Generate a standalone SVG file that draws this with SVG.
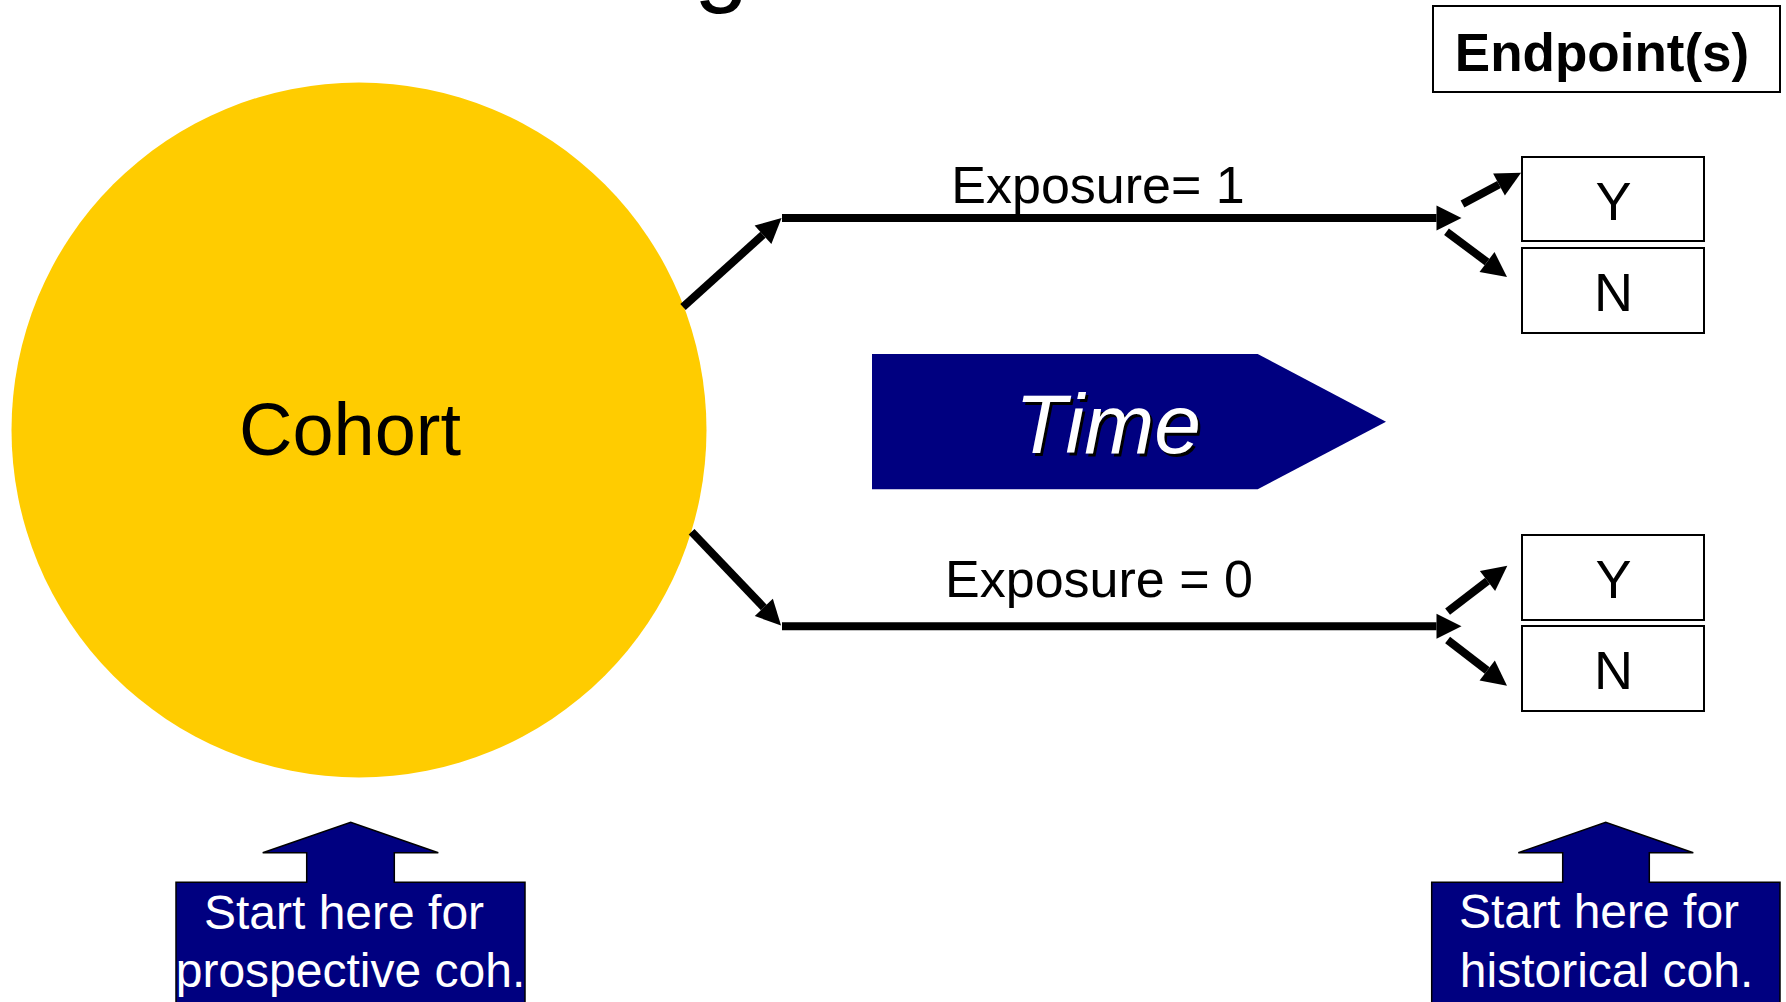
<svg xmlns="http://www.w3.org/2000/svg" width="1786" height="1002" viewBox="0 0 1786 1002">
  <style>
    .lbl { font-family: "Liberation Sans", Arial, sans-serif; fill: #000; }
    .box { fill: #fff; stroke: #000; stroke-width: 2; }
    .navy { fill: #000080; }
    .callout { fill: #000080; stroke: #000; stroke-width: 1.5; stroke-linejoin: miter; }
    .wtxt { font-family: "Liberation Sans", Arial, sans-serif; fill: #fff; font-size: 48px; text-anchor: middle; }
    .conn { stroke: #000; stroke-width: 8; fill: none; marker-end: url(#head); }
  </style>
  <defs>
    <marker id="head" markerUnits="userSpaceOnUse" markerWidth="26" markerHeight="26" refX="0" refY="12.5" orient="auto" overflow="visible">
      <path d="M0,0 L25,12.5 L0,25 z" fill="#000"/>
    </marker>
  </defs>

  <rect width="1786" height="1002" fill="#fff"/>

  <!-- title, mostly above the page edge -->
  <text class="lbl" x="694" y="-6" font-size="98">g</text>

  <g id="cohort">
    <circle cx="359" cy="430" r="347.5" fill="#FFCC00"/>
    <text class="lbl" x="350" y="455" font-size="74" text-anchor="middle">Cohort</text>
  </g>

  <g id="endpoints">
    <rect class="box" x="1433" y="6" width="347" height="86"/>
    <text class="lbl" x="1602" y="71" font-size="53" font-weight="bold" text-anchor="middle">Endpoint(s)</text>
  </g>

  <g id="time">
    <polygon class="navy" points="872,354 1257.7,354 1386,421.7 1257.7,489.3 872,489.3"/>
    <text x="1110.5" y="455.5" font-family="Liberation Sans, Arial, sans-serif" font-size="84" font-style="italic" text-anchor="middle" fill="#000">Time</text>
    <text x="1108" y="453" font-family="Liberation Sans, Arial, sans-serif" font-size="84" font-style="italic" text-anchor="middle" fill="#fff">Time</text>
  </g>

  <g id="exp1-y">
    <rect class="box" x="1522" y="157" width="182" height="84"/>
    <text class="lbl" x="1613.5" y="220" font-size="54" text-anchor="middle">Y</text>
  </g>
  <g id="exp1-n">
    <rect class="box" x="1522" y="248" width="182" height="85"/>
    <text class="lbl" x="1613.5" y="310.5" font-size="54" text-anchor="middle">N</text>
  </g>
  <g id="exp0-y">
    <rect class="box" x="1522" y="535" width="182" height="85"/>
    <text class="lbl" x="1613.5" y="598" font-size="54" text-anchor="middle">Y</text>
  </g>
  <g id="exp0-n">
    <rect class="box" x="1522" y="626" width="182" height="85"/>
    <text class="lbl" x="1613.5" y="688.5" font-size="54" text-anchor="middle">N</text>
  </g>

  <g id="start-prospective">
    <polygon class="callout" points="176,1010 176,882.3 306.7,882.3 306.7,852.7 262.7,852.7 350.7,822.3 438.3,852.7 394.3,852.7 394.3,882.3 525,882.3 525,1010"/>
    <text class="wtxt" x="344" y="929">Start here for</text>
    <text class="wtxt" x="350.5" y="987">prospective coh.</text>
  </g>

  <g id="start-historical">
    <polygon class="callout" points="1431.7,1010 1431.7,882.3 1562.7,882.3 1562.7,852.7 1518.3,852.7 1605.7,822.3 1693.3,852.7 1649.3,852.7 1649.3,882.3 1780,882.3 1780,1010"/>
    <text class="wtxt" x="1599" y="928">Start here for</text>
    <text class="wtxt" x="1606.5" y="987">historical coh.</text>
  </g>

  <g id="connectors">
    <!-- exposed branch -->
    <path class="conn" d="M683,307 L763,234.8"/>
    <path class="conn" d="M782,218 L1436.5,218"/>
    <path class="conn" d="M1462.5,204 L1499,184.5"/>
    <path class="conn" d="M1446.5,231.7 L1487,262"/>
    <!-- unexposed branch -->
    <path class="conn" d="M691.6,531.7 L763.8,607.4"/>
    <path class="conn" d="M782,626.3 L1436.5,626.3"/>
    <path class="conn" d="M1447.6,611.7 L1487.5,581"/>
    <path class="conn" d="M1447.6,640 L1487.2,670.5"/>
  </g>

  <g id="labels">
    <text class="lbl" x="1098" y="203" font-size="52" text-anchor="middle">Exposure= 1</text>
    <text class="lbl" x="1099" y="597" font-size="52" text-anchor="middle">Exposure = 0</text>
  </g>
</svg>
